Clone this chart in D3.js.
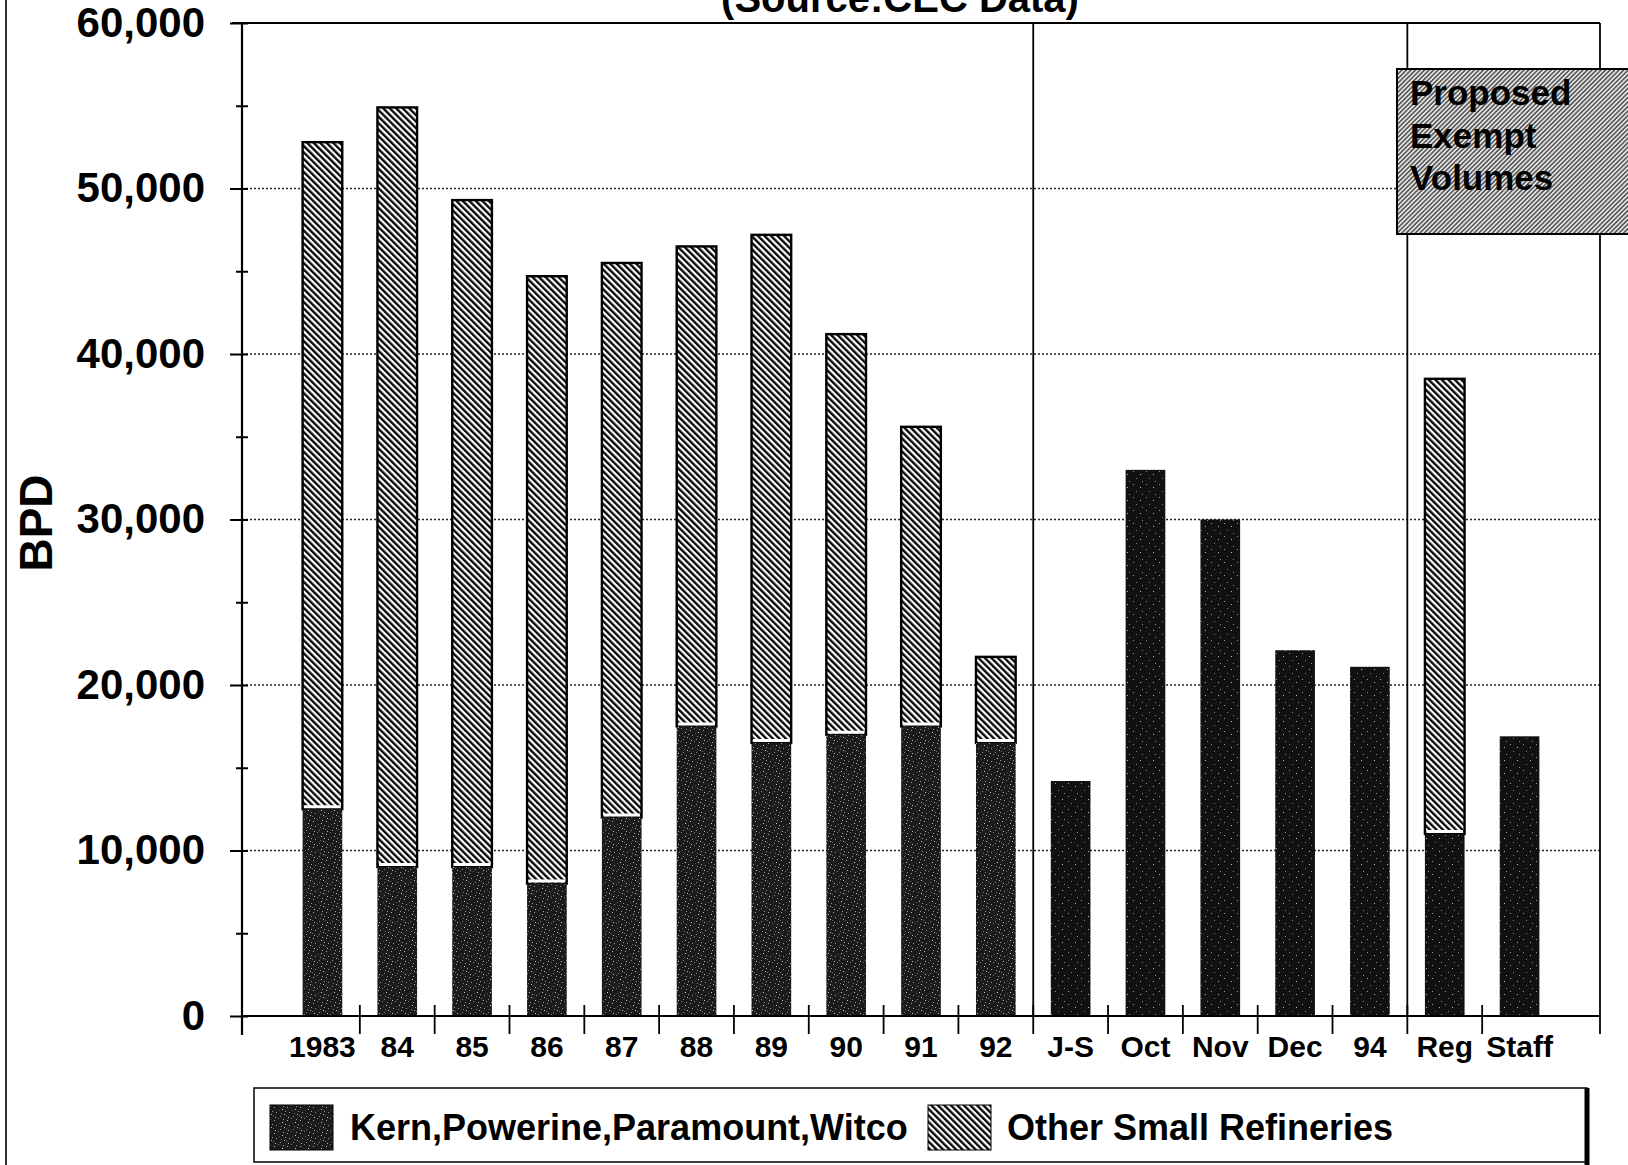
<!DOCTYPE html>
<html>
<head>
<meta charset="utf-8">
<script src="https://cdn.jsdelivr.net/npm/d3@7"></script>
<style>
  html, body { margin: 0; padding: 0; background: #fff; }
  svg { display: block; }
  .bold { font-family: "Liberation Sans", Arial, sans-serif; font-weight: bold; fill: #000; }
  .narrow { font-family: "Liberation Sans Narrow", "Arial Narrow", "Liberation Sans", sans-serif; font-weight: bold; fill: #000; }
</style>
</head>
<body>
<script>
// Small refinery volumes, barrels per day
const categories = ["1983", "84", "85", "86", "87", "88", "89", "90", "91", "92",
                    "J-S", "Oct", "Nov", "Dec", "94", "Reg", "Staff"];
const kernEtAl = [12500, 9000, 9000, 8000, 12000, 17500, 16500, 17000, 17500, 16500,
                  14200, 33000, 30000, 22100, 21100, 11000, 16900];
const otherSmall = [40300, 45900, 40300, 36700, 33500, 29000, 30700, 24200, 18100, 5200,
                    0, 0, 0, 0, 0, 27500, 0];
const groupStarts = ["J-S", "Reg"];          // vertical dividers before these columns
const yTicks = [0, 10000, 20000, 30000, 40000, 50000, 60000];
const yMinorTicks = [5000, 15000, 25000, 35000, 45000, 55000];
const seriesNames = ["Kern,Powerine,Paramount,Witco", "Other Small Refineries"];
const titleText = "(Source:CEC Data)";
const yLabel = "BPD";
const noteLines = ["Proposed", "Exempt", "Volumes"];

const W = 1628, H = 1165;
const plot = { left: 242, right: 1600, top: 23, bottom: 1016 };

const svg = d3.select("body").append("svg")
  .attr("width", W).attr("height", H);

// ---- fill patterns ----
const defs = svg.append("defs");

// diagonal hatch for the "other" series
const hatch = defs.append("pattern").attr("id", "hatch")
  .attr("patternUnits", "userSpaceOnUse").attr("width", 4.6).attr("height", 4.6)
  .attr("patternTransform", "rotate(-45)");
hatch.append("rect").attr("width", 4.6).attr("height", 4.6).attr("fill", "#fff");
hatch.append("line").attr("x1", 1.2).attr("y1", 0).attr("x2", 1.2).attr("y2", 4.6)
  .attr("stroke", "#000").attr("stroke-width", 2.3);

// fine hatch for the note box
const fine = defs.append("pattern").attr("id", "fine")
  .attr("patternUnits", "userSpaceOnUse").attr("width", 3.2).attr("height", 3.2)
  .attr("patternTransform", "rotate(45)");
fine.append("rect").attr("width", 3.2).attr("height", 3.2).attr("fill", "#e4e4e4");
fine.append("line").attr("x1", 0.8).attr("y1", 0).attr("x2", 0.8).attr("y2", 3.2)
  .attr("stroke", "#3a3a3a").attr("stroke-width", 1.3);

// speckled dark texture for the Kern group
function speckle(id, specks, base) {
  const p = defs.append("pattern").attr("id", id)
    .attr("patternUnits", "userSpaceOnUse").attr("width", 13).attr("height", 13);
  p.append("rect").attr("width", 13).attr("height", 13).attr("fill", base);
  specks.forEach(([sx, sy, c]) => {
    p.append("rect").attr("x", sx).attr("y", sy).attr("width", 1).attr("height", 1).attr("fill", c);
  });
}
speckle("speckLight", [[1,2,"#aaa"],[5,0,"#777"],[9,4,"#ccc"],[3,7,"#999"],[11,9,"#bbb"],
  [7,11,"#888"],[0,10,"#666"],[6,5,"#555"],[10,1,"#999"],[2,12,"#bbb"],[8,8,"#777"],[12,6,"#999"]], "#1b1b1b");
speckle("speckDark", [[2,3,"#999"],[9,6,"#bbb"],[5,10,"#777"],[11,0,"#888"]], "#111");

// ---- scales ----
const x = d3.scaleBand().domain(categories)
  .range([plot.left, plot.right]).paddingInner(0.47).paddingOuter(0.81);
const y = d3.scaleLinear().domain([0, 60000]).range([plot.bottom, plot.top]);
const step = x.step();
const gap = step * x.paddingInner();
const boundary = c => x(c) - gap / 2;

// ---- gridlines ----
svg.append("g").selectAll("line")
  .data(yTicks.filter(v => v > 0 && v < 60000)).join("line")
  .attr("x1", plot.left).attr("x2", plot.right)
  .attr("y1", d => y(d)).attr("y2", d => y(d))
  .attr("stroke", "#222").attr("stroke-width", 1.3).attr("stroke-dasharray", "2,2");

// plot frame: top line, right edge, group dividers
svg.append("line").attr("x1", plot.left - 10).attr("x2", plot.right)
  .attr("y1", y(60000)).attr("y2", y(60000)).attr("stroke", "#000").attr("stroke-width", 2);
svg.append("line").attr("x1", plot.right).attr("x2", plot.right)
  .attr("y1", y(60000)).attr("y2", plot.bottom + 18).attr("stroke", "#000").attr("stroke-width", 1.8);
svg.append("g").selectAll("line").data(groupStarts).join("line")
  .attr("x1", d => boundary(d)).attr("x2", d => boundary(d))
  .attr("y1", y(60000)).attr("y2", plot.bottom)
  .attr("stroke", "#000").attr("stroke-width", 1.8);

// ---- bars ----
const rows = categories.map((c, i) => ({ c, i, k: kernEtAl[i], o: otherSmall[i] }));
const bars = svg.append("g");
bars.selectAll("rect.other").data(rows.filter(d => d.o > 0)).join("rect")
  .attr("class", "other")
  .attr("x", d => x(d.c)).attr("width", x.bandwidth())
  .attr("y", d => y(d.k + d.o)).attr("height", d => y(d.k) - y(d.k + d.o))
  .attr("fill", "url(#hatch)").attr("stroke", "#000").attr("stroke-width", 2.4);
bars.selectAll("rect.kern").data(rows).join("rect")
  .attr("class", "kern")
  .attr("x", d => x(d.c)).attr("width", x.bandwidth())
  .attr("y", d => y(d.k)).attr("height", d => y(0) - y(d.k))
  .attr("fill", d => d.i < 10 ? "url(#speckLight)" : "url(#speckDark)");
// thin light seam where the two series meet
bars.selectAll("line.seam").data(rows.filter(d => d.o > 0)).join("line")
  .attr("class", "seam")
  .attr("x1", d => x(d.c) + 1.5).attr("x2", d => x(d.c) + x.bandwidth() - 1.5)
  .attr("y1", d => y(d.k) - 2.5).attr("y2", d => y(d.k) - 2.5)
  .attr("stroke", "#fff").attr("stroke-width", 3);

// ---- y axis ----
const yAxis = svg.append("g").attr("transform", `translate(${plot.left},0)`)
  .call(d3.axisLeft(y).tickValues(yTicks).tickFormat(d3.format(",")).tickSize(12).tickPadding(25));
yAxis.select(".domain").remove();
yAxis.selectAll(".tick line").attr("x1", 6).attr("stroke-width", 2);
yAxis.selectAll(".tick text").attr("class", "bold").style("font-size", "42px");
const yMinor = svg.append("g").attr("transform", `translate(${plot.left},0)`)
  .call(d3.axisLeft(y).tickValues(yMinorTicks).tickFormat("").tickSize(6));
yMinor.select(".domain").remove();
yMinor.selectAll(".tick line").attr("x1", 6).attr("stroke-width", 2);
svg.append("line").attr("x1", plot.left).attr("x2", plot.left)
  .attr("y1", y(60000)).attr("y2", plot.bottom + 19).attr("stroke", "#000").attr("stroke-width", 2.2);

// ---- x axis ----
svg.append("line").attr("x1", plot.left).attr("x2", plot.right)
  .attr("y1", plot.bottom).attr("y2", plot.bottom).attr("stroke", "#000").attr("stroke-width", 2);
svg.append("g").selectAll("line").data(categories.slice(1)).join("line")
  .attr("x1", d => boundary(d)).attr("x2", d => boundary(d))
  .attr("y1", plot.bottom - 11).attr("y2", plot.bottom + 18)
  .attr("stroke", "#000").attr("stroke-width", 1.8);
const xAxis = svg.append("g").attr("transform", `translate(0,${plot.bottom})`)
  .call(d3.axisBottom(x).tickSize(0).tickPadding(20));
xAxis.select(".domain").remove();
xAxis.selectAll(".tick text").attr("class", "narrow").style("font-size", "30px").attr("dy", "0.71em");

// ---- titles ----
svg.append("text").attr("class", "bold").attr("x", 900).attr("y", 12)
  .attr("text-anchor", "middle").style("font-size", "40px").text(titleText);
svg.append("text").attr("class", "bold")
  .attr("transform", "translate(52,523) rotate(-90)")
  .attr("text-anchor", "middle").style("font-size", "46px").text(yLabel);

// page edge
svg.append("line").attr("x1", 6).attr("x2", 6).attr("y1", 0).attr("y2", H)
  .attr("stroke", "#000").attr("stroke-width", 1.6);

// ---- note box ----
const note = svg.append("g");
note.append("rect").attr("x", 1397).attr("y", 69).attr("width", 240).attr("height", 165)
  .attr("fill", "url(#fine)").attr("stroke", "#000").attr("stroke-width", 2);
note.selectAll("text").data(noteLines).join("text").attr("class", "bold")
  .attr("x", 1410).attr("y", (d, i) => 105 + i * 42.5)
  .style("font-size", "35px").text(d => d);

// ---- legend ----
const lg = svg.append("g");
lg.append("rect").attr("x", 254).attr("y", 1088).attr("width", 1333).attr("height", 74)
  .attr("fill", "#fff").attr("stroke", "#000").attr("stroke-width", 1.5);
lg.append("line").attr("x1", 1587).attr("x2", 1587).attr("y1", 1088).attr("y2", H)
  .attr("stroke", "#000").attr("stroke-width", 5);
const legendItems = [
  { name: seriesNames[0], fill: "url(#speckLight)", sx: 270, tx: 350 },
  { name: seriesNames[1], fill: "url(#hatch)", sx: 928, tx: 1007 }
];
legendItems.forEach(it => {
  lg.append("rect").attr("x", it.sx).attr("y", 1105).attr("width", 63).attr("height", 45)
    .attr("fill", it.fill).attr("stroke", "#000").attr("stroke-width", 1);
  lg.append("text").attr("class", "bold").attr("x", it.tx).attr("y", 1140)
    .style("font-size", "36px").text(it.name);
});
</script>
</body>
</html>
